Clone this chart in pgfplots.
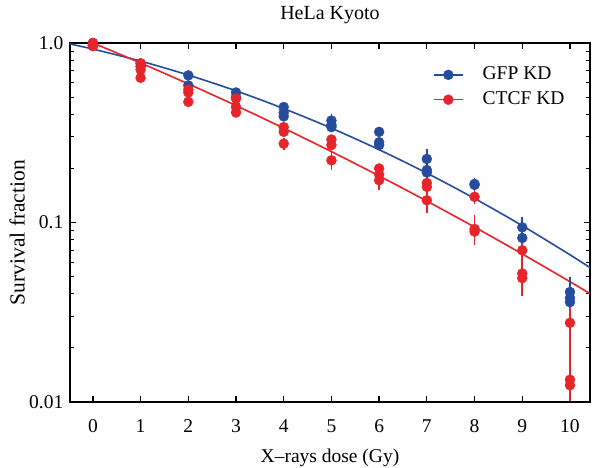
\documentclass[border=0pt]{standalone}
\usepackage{pgfplots}
\pgfplotsset{compat=1.18}
\usepackage{fontspec}
\setmainfont{Liberation Serif}
\definecolor{gfpblue}{RGB}{38,76,158}
\definecolor{ctcfred}{RGB}{230,36,41}
\begin{document}
\fontsize{19.5pt}{23pt}\selectfont
\begin{tikzpicture}
\begin{axis}[
  at={(0,0)}, anchor=south west,
  scale only axis, width=520pt, height=359pt,
  ymode=log, xmin=-0.48, xmax=10.42, ymin=0.01, ymax=1,
  xtick={0,1,2,3,4,5,6,7,8,9,10},
  ytick={0.01,0.1,1}, yticklabels={0.01,0.1,1.0},
  /pgf/number format/assume math mode=true,
  tick label style={font=\fontsize{19.5pt}{23pt}\selectfont},
  xticklabel style={anchor=base, yshift=-30pt},
  xlabel style={font=\fontsize{19.5pt}{23pt}\selectfont, at={(axis description cs:0.5,0)}, anchor=base, yshift=-60pt},
  ylabel style={font=\fontsize{21.5pt}{25pt}\selectfont, at={(axis description cs:-0.074,0.472)}, anchor=south},
  title style={font=\fontsize{20pt}{24pt}\selectfont, yshift=6pt},
  title={HeLa Kyoto},
  xlabel={X–rays dose (Gy)},
  ylabel={Survival fraction},
  axis line style={line width=1.6pt},
  major tick style={line width=1.3pt, black},
  minor tick style={line width=1pt, black},
  major tick length=6pt, minor tick length=4pt,
  tick align=inside,
  clip=true,
  legend style={at={(rel axis cs:0.692,0.945)}, anchor=north west, draw=none, fill=none,
    font=\fontsize{19.5pt}{23pt}\selectfont, row sep=5pt, column sep=17pt},
  legend cell align=left,
  legend image code/.code={\draw[#1, line width=1.6pt] (0pt,0pt) -- (29pt,0pt); \fill[#1] (14.5pt,0pt) circle (5pt);},
]
% GFP KD fit
\addplot[gfpblue, line width=1.6pt, smooth, forget plot] coordinates {
(-0.5,0.990) (0,0.925) (1,0.793) (2,0.663) (3,0.5415) (4,0.4312) (5,0.3354) (6,0.2544) (7,0.1884) (8,0.1361) (9,0.0960) (10,0.0661) (10.5,0.0543)};
% CTCF KD fit
\addplot[ctcfred, line width=1.6pt, smooth, forget plot] coordinates {
(-0.5,1.132) (0,1.0) (1,0.774) (2,0.592) (3,0.448) (4,0.3354) (5,0.2483) (6,0.1818) (7,0.1316) (8,0.0943) (9,0.0668) (10,0.0468) (10.5,0.039)};
% GFP KD data
\addplot[only marks, gfpblue, mark=*, mark size=5pt, forget plot,
  error bars/.cd, y dir=both, y explicit, error bar style={line width=1.8pt, gfpblue}, error mark=none]
coordinates {
(0,1.0) (0,0.97)
(1,0.77) (1,0.74)
(2,0.66) (2,0.58)
(3,0.53) (3,0.50)
(4,0.44) (4,0.41) (4,0.39)
(5,0.37) +- (0,0.03) (5,0.35) (5,0.34)
(6,0.32) +- (0,0.02) (6,0.28) (6,0.27)
(7,0.226) += (0,0.03) -= (0,0.02) (7,0.196) (7,0.19)
(8,0.164) +- (0,0.012) (8,0.162)
(9,0.094) += (0,0.014) -= (0,0.01) (9,0.082)
(10,0.041) += (0,0.009) -= (0,0.008) (10,0.038) (10,0.036)
};
% CTCF KD data
\addplot[only marks, ctcfred, mark=*, mark size=5pt, forget plot,
  error bars/.cd, y dir=both, y explicit, error bar style={line width=1.8pt, ctcfred}, error mark=none]
coordinates {
(0,1.0) (0,0.98) (0,0.96)
(1,0.77) (1,0.71) (1,0.64)
(2,0.55) (2,0.53) (2,0.47)
(3,0.49) (3,0.44) (3,0.41)
(4,0.34) (4,0.32) (4,0.275) +- (0,0.02)
(5,0.29) (5,0.27) (5,0.222) +- (0,0.025)
(6,0.20) (6,0.185) (6,0.172) +- (0,0.02)
(7,0.166) +- (0,0.02) (7,0.158) (7,0.133) +- (0,0.02)
(8,0.139) +- (0,0.012) (8,0.092) += (0,0.018) -= (0,0.017) (8,0.089)
(9,0.070) += (0,0.012) -= (0,0.02) (9,0.052) (9,0.049) += (0,0.004) -= (0,0.01)
(10,0.0276) += (0,0.012) -= (0,0.0175) (10,0.0133) (10,0.0124) -= (0,0.002)
};
\addlegendimage{gfpblue}
\addlegendentry{GFP KD}
\addlegendimage{ctcfred}
\addlegendentry{CTCF KD}
\end{axis}
\pgfresetboundingbox
\path[use as bounding box] (-70pt,-66pt) rectangle (522pt,402pt);
\end{tikzpicture}
\end{document}
